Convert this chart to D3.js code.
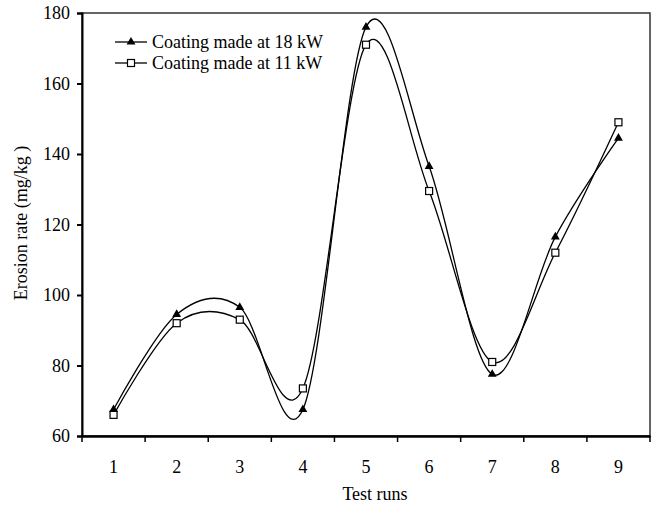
<!DOCTYPE html>
<html>
<head>
<meta charset="utf-8">
<script src="https://cdn.jsdelivr.net/npm/d3@7"></script>
<style>
  body { margin: 0; background: #fff; }
  svg text { font-family: "Liberation Serif", "Times New Roman", serif; fill: #000; }
</style>
</head>
<body>
<svg></svg>
<script>
// chart values
const runs = ["1", "2", "3", "4", "5", "6", "7", "8", "9"]
const rate18 = [67.5, 94.5, 96.5, 67.5, 176, 136.5, 77.5, 116.5, 144.5]
const rate11 = [66, 92, 93, 73.5, 171, 129.5, 81, 112, 149]
const yTicks = [60, 80, 100, 120, 140, 160, 180]
const seriesNames = ["Coating made at 18 kW", "Coating made at 11 kW"]

const svg = d3.select("svg")
    .attr("width", 652)
    .attr("height", 506)

const plotLeft = 82, plotRight = 650, plotTop = 13, plotBottom = 436

const x = d3.scaleBand()
    .domain(runs)
    .range([plotLeft, plotRight])

const y = d3.scaleLinear()
    .domain([60, 180])
    .range([plotBottom, plotTop])

// frame around the plot
svg.append("rect")
    .attr("x", plotLeft)
    .attr("y", plotTop)
    .attr("width", plotRight - plotLeft)
    .attr("height", plotBottom - plotTop)
    .attr("fill", "none")
    .attr("stroke", "#333")
    .attr("stroke-width", 1.5)

// axes
const yAxis = svg.append("g")
    .attr("transform", `translate(${plotLeft},0)`)
    .call(d3.axisLeft(y).tickValues(yTicks).tickSize(5).tickPadding(7))
yAxis.selectAll("text").style("font-size", "18px")
yAxis.selectAll("line, path").attr("stroke", "#000").attr("stroke-width", 2)

const xAxis = svg.append("g")
    .attr("transform", `translate(0,${plotBottom})`)
    .call(d3.axisBottom(x).tickSize(0).tickPadding(24))
xAxis.selectAll("text").style("font-size", "18px")
xAxis.select("path").attr("stroke", "#000").attr("stroke-width", 2.5)

// tick marks sit between the categories
xAxis.selectAll("line.sep")
    .data(d3.range(runs.length + 1))
    .enter()
    .append("line")
    .attr("class", "sep")
    .attr("x1", i => plotLeft + i * x.step())
    .attr("x2", i => plotLeft + i * x.step())
    .attr("y1", 0)
    .attr("y2", 6)
    .attr("stroke", "#000")
    .attr("stroke-width", 1.5)

// axis titles
svg.append("text")
    .attr("x", 375)
    .attr("y", 500)
    .attr("text-anchor", "middle")
    .style("font-size", "18px")
    .text("Test runs")

svg.append("text")
    .attr("transform", "translate(27, 223) rotate(-90)")
    .attr("text-anchor", "middle")
    .style("font-size", "18px")
    .text("Erosion rate (mg/kg )")

// smoothed lines
const line = d3.line()
    .x((d, i) => x(runs[i]) + x.bandwidth() / 2)
    .y(d => y(d))
    .curve(d3.curveCatmullRom.alpha(0))

const triangle = d3.symbol().type(d3.symbolTriangle).size(34)

function drawSeries(values, marker) {
    const g = svg.append("g")
    g.append("path")
        .datum(values)
        .attr("d", line)
        .attr("fill", "none")
        .attr("stroke", "#000")
        .attr("stroke-width", 1.3)

    const pts = g.selectAll("g.pt")
        .data(values)
        .enter()
        .append("g")
        .attr("class", "pt")
        .attr("transform", (d, i) => `translate(${x(runs[i]) + x.bandwidth() / 2},${y(d)})`)
    marker(pts)
}

function triMarker(sel) {
    sel.append("path")
        .attr("d", triangle)
        .attr("fill", "#000")
}

function squareMarker(sel) {
    sel.append("rect")
        .attr("x", -3.5)
        .attr("y", -3.5)
        .attr("width", 7)
        .attr("height", 7)
        .attr("fill", "#fff")
        .attr("stroke", "#000")
        .attr("stroke-width", 1.2)
}

drawSeries(rate18, triMarker)
drawSeries(rate11, squareMarker)

// legend
const legend = svg.append("g")
    .selectAll("g")
    .data(seriesNames)
    .enter()
    .append("g")
    .attr("transform", (d, i) => `translate(115,${42 + i * 21})`)

legend.append("line")
    .attr("x1", 0)
    .attr("x2", 32)
    .attr("stroke", "#000")
    .attr("stroke-width", 1.3)

legend.append("g")
    .attr("transform", "translate(16,0)")
    .each(function (d, i) {
        const g = d3.select(this)
        if (i === 0) triMarker(g)
        else squareMarker(g)
    })

legend.append("text")
    .attr("x", 37)
    .attr("y", 6)
    .style("font-size", "18px")
    .text(d => d)
</script>
</body>
</html>
